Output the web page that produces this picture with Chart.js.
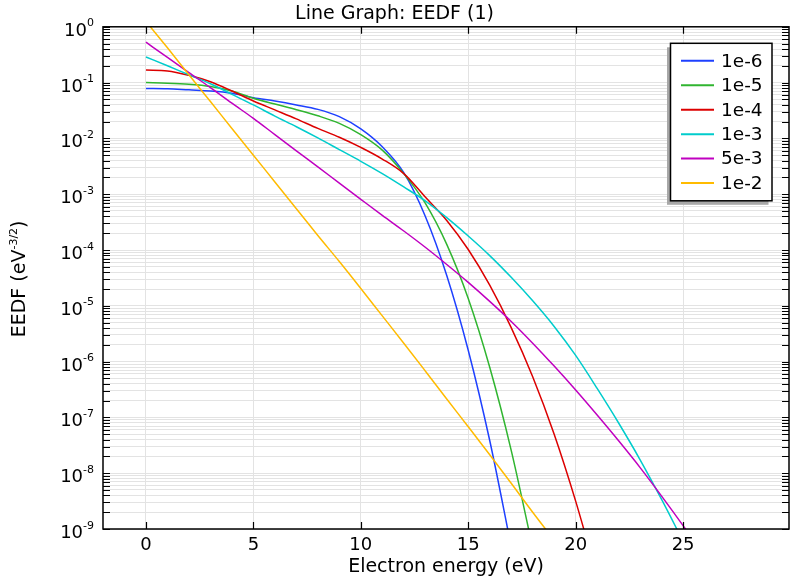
<!DOCTYPE html>
<html>
<head>
<meta charset="utf-8">
<title>EEDF</title>
<script src="https://cdn.jsdelivr.net/npm/chart.js@4.4.1/dist/chart.umd.min.js"></script>
<style>
	html, body { margin: 0; padding: 0; background: #fff; }
	#eedf-chart { display: block; }
</style>
</head>
<body>
<canvas id="eedf-chart" width="790" height="577"></canvas>
<script>
// electron energy (eV) sample points
var energy = [0, 1, 2, 3, 4, 5, 6, 7, 8, 9, 10, 11, 12, 13, 14, 15, 16, 17, 18, 19, 20, 21, 22, 23, 24, 25, 26];

var seriesLabels = ["1e-6", "1e-5", "1e-4", "1e-3", "5e-3", "1e-2"];
var seriesColors = ["#1e40ff", "#30b530", "#dc0000", "#00cccc", "#c000c0", "#ffbb00"];

// EEDF (eV^-3/2) for each ionization degree
var eedf1e6 = [0.0785, 0.0776, 0.0741, 0.0708, 0.0646, 0.0537, 0.0468, 0.0398, 0.0331, 0.0245, 0.0148, 7.08e-3, 2.43e-3, 4.03e-4, 3.5e-5, 1.6e-6, 3.85e-8, 4.84e-10];
var eedf1e5 = [0.100, 0.0977, 0.0933, 0.0851, 0.0708, 0.0525, 0.0412, 0.0327, 0.0254, 0.0186, 0.0117, 6.17e-3, 2.34e-3, 6.9e-4, 1.26e-4, 1.35e-5, 7.9e-7, 2.57e-8, 4.6e-10];
var eedf1e4 = [0.1675, 0.162, 0.135, 0.1035, 0.0708, 0.0468, 0.0324, 0.0224, 0.0151, 0.0105, 6.9e-3, 4.27e-3, 2.34e-3, 8.9e-4, 3.39e-4, 1.02e-4, 2.34e-5, 4.07e-6, 5.37e-7, 5.0e-8, 3.16e-9, 1.41e-10];
var eedf1e3 = [0.288, 0.200, 0.138, 0.0955, 0.0617, 0.0398, 0.0251, 0.0162, 0.0102, 6.3e-3, 3.89e-3, 2.34e-3, 1.35e-3, 7.6e-4, 3.8e-4, 1.78e-4, 7.94e-5, 3.24e-5, 1.23e-5, 4.27e-6, 1.29e-6, 3.31e-7, 7.94e-8, 1.74e-8, 3.39e-9, 6.03e-10];
var eedf5e3 = [0.53, 0.282, 0.151, 0.0813, 0.0427, 0.0229, 0.0117, 6.0e-3, 3.09e-3, 1.58e-3, 8.1e-4, 4.17e-4, 2.19e-4, 1.12e-4, 5.5e-5, 2.63e-5, 1.2e-5, 5.25e-6, 2.14e-6, 8.3e-7, 3.09e-7, 1.1e-7, 3.8e-8, 1.26e-8, 3.89e-9, 1.15e-9, 3.24e-10];
var eedf1e2 = [1.25, 0.42, 0.138, 0.0457, 0.0151, 5.0e-3, 1.66e-3, 5.5e-4, 1.82e-4, 6.2e-5, 2.04e-5, 6.6e-6, 2.14e-6, 6.8e-7, 2.14e-7, 6.8e-8, 2.14e-8, 6.6e-9, 2.0e-9, 6.3e-10];

var seriesValues = [eedf1e6, eedf1e5, eedf1e4, eedf1e3, eedf5e3, eedf1e2];

// log axis: decades shown on the y axis
var decades = [-9, -8, -7, -6, -5, -4, -3, -2, -1, 0];

var FONT = "'DejaVu Sans', sans-serif";
Chart.defaults.font.family = FONT;
Chart.defaults.color = "#000";

function toPoints(values) {
	return values.map(function (v, i) {
		return { x: energy[i], y: v };
	});
}

// 1..9 x 10^n for every decade
function logTicks() {
	var list = [];
	decades.forEach(function (e) {
		for (var m = 1; m <= 9; m++) {
			if (e === decades[decades.length - 1] && m > 1) break;
			list.push({ value: m * Math.pow(10, e) });
		}
	});
	return list;
}

// frame, inward tick marks, y labels with exponents, axis titles and legend box
var axisDecor = {
	id: "axisDecor",
	afterDatasetsDraw: function (chart) {
		var ctx = chart.ctx;
		var a = chart.chartArea;
		var xs = chart.scales.x;
		var ys = chart.scales.y;

		ctx.save();
		ctx.strokeStyle = "#000";
		ctx.lineWidth = 1.2;
		ctx.beginPath();
		ys.ticks.forEach(function (t) {
			var py = Math.round(ys.getPixelForValue(t.value)) + 0.5;
			ctx.moveTo(a.left, py);
			ctx.lineTo(a.left + 7, py);
			ctx.moveTo(a.right - 7, py);
			ctx.lineTo(a.right, py);
		});
		xs.ticks.forEach(function (t) {
			var px = Math.round(xs.getPixelForValue(t.value)) + 0.5;
			ctx.moveTo(px, a.bottom);
			ctx.lineTo(px, a.bottom - 7);
			ctx.moveTo(px, a.top);
			ctx.lineTo(px, a.top + 7);
		});
		ctx.stroke();

		ctx.lineWidth = 1.5;
		ctx.strokeRect(a.left, a.top, a.right - a.left, a.bottom - a.top);

		// y tick labels: 10 with superscript exponent
		ctx.fillStyle = "#000";
		ctx.textBaseline = "alphabetic";
		ctx.textAlign = "left";
		ys.ticks.forEach(function (t) {
			var lg = Math.log10(t.value);
			var e = Math.round(lg);
			if (Math.abs(lg - e) > 1e-6) return;
			var py = ys.getPixelForValue(t.value);
			var sup = String(e);
			ctx.font = "11px " + FONT;
			var sw = ctx.measureText(sup).width;
			var supX = a.left - 9 - sw;
			ctx.fillText(sup, supX, py - 0.5);
			ctx.font = "18px " + FONT;
			var bw = ctx.measureText("10").width;
			ctx.fillText("10", supX - bw, py + 9);
		});

		// x axis title
		ctx.font = "19px " + FONT;
		ctx.textAlign = "center";
		ctx.fillText("Electron energy (eV)", (a.left + a.right) / 2, 572);

		// y axis title, rotated
		ctx.save();
		ctx.translate(25, (a.top + a.bottom) / 2 + 1);
		ctx.rotate(-Math.PI / 2);
		ctx.textAlign = "left";
		var big = "19px " + FONT, small = "11px " + FONT;
		ctx.font = big;
		var w1 = ctx.measureText("EEDF (eV").width;
		var w3 = ctx.measureText(")").width;
		ctx.font = small;
		var w2 = ctx.measureText("-3/2").width;
		var start = -(w1 + w2 + w3) / 2;
		ctx.font = big;
		ctx.fillText("EEDF (eV", start, 0);
		ctx.font = small;
		ctx.fillText("-3/2", start + w1, -8);
		ctx.font = big;
		ctx.fillText(")", start + w1 + w2, 0);
		ctx.restore();

		// legend with drop shadow
		var lx = a.right - 118.5, ly = a.top + 16.5, lw = 101.5, lh = 157.5;
		ctx.fillStyle = "#a8a8a8";
		ctx.fillRect(lx - 3.5, ly + 4, lw, lh);
		ctx.fillStyle = "#fff";
		ctx.fillRect(lx, ly, lw, lh);
		ctx.strokeStyle = "#000";
		ctx.lineWidth = 1.5;
		ctx.strokeRect(lx, ly, lw, lh);
		ctx.font = "18.5px " + FONT;
		ctx.textAlign = "left";
		ctx.textBaseline = "middle";
		chart.data.datasets.forEach(function (ds, i) {
			var cy = ly + 17.5 + i * 24.45;
			ctx.strokeStyle = ds.borderColor;
			ctx.lineWidth = 2;
			ctx.beginPath();
			ctx.moveTo(lx + 10.5, cy);
			ctx.lineTo(lx + 43.5, cy);
			ctx.stroke();
			ctx.fillStyle = "#000";
			ctx.fillText(ds.label, lx + 50.5, cy + 1);
		});
		ctx.restore();
	}
};

var ctx = document.getElementById("eedf-chart").getContext("2d");

var eedfChart = new Chart(ctx, {
	type: "line",
	data: {
		datasets: seriesLabels.map(function (label, i) {
			return {
				label: label,
				data: toPoints(seriesValues[i]),
				borderColor: seriesColors[i],
				backgroundColor: seriesColors[i],
				borderWidth: 1.5,
				pointRadius: 0,
				cubicInterpolationMode: "monotone",
				fill: false,
				clip: 0,
				order: seriesLabels.length - i,
			};
		}),
	},
	options: {
		responsive: false,
		animation: false,
		layout: { padding: { left: 0, right: 1, top: 0, bottom: 0 } },
		plugins: {
			legend: { display: false },
			tooltip: { enabled: false },
			title: {
				display: true,
				text: "Line Graph: EEDF (1)",
				color: "#000",
				font: { size: 19, weight: "normal" },
				padding: { top: 3, bottom: 1 },
			},
		},
		scales: {
			x: {
				type: "linear",
				min: -2,
				max: 29.93,
				border: { display: false },
				grid: { color: "#e3e3e3", drawTicks: false },
				ticks: { stepSize: 5, includeBounds: false, maxRotation: 0, padding: 6, color: "#000", font: { size: 18 } },
				afterFit: function (s) { s.height = 48; },
			},
			y: {
				type: "logarithmic",
				min: 1e-9,
				max: 1,
				border: { display: false },
				grid: { color: "#e3e3e3", drawTicks: false },
				ticks: { display: false },
				afterBuildTicks: function (s) { s.ticks = logTicks(); },
				afterFit: function (s) { s.width = 103; },
			},
		},
	},
	plugins: [axisDecor],
});
</script>
</body>
</html>
